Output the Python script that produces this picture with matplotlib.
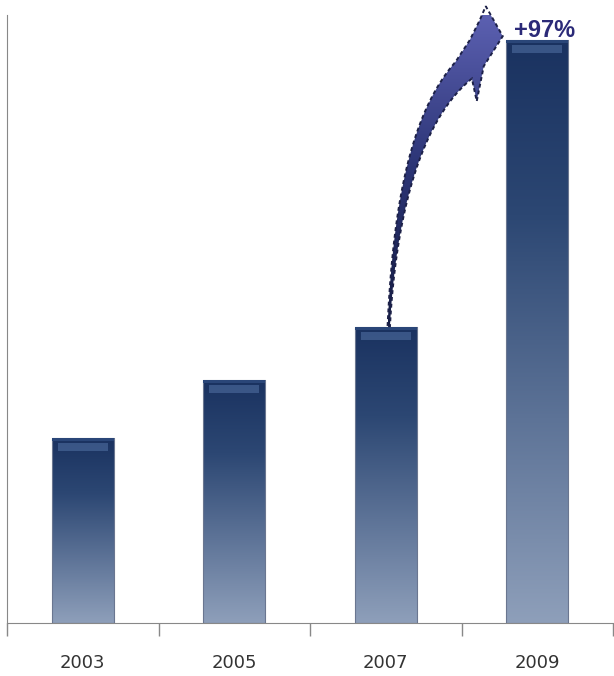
import numpy as np
import matplotlib
matplotlib.use("Agg")
import matplotlib.pyplot as plt
from matplotlib.colors import LinearSegmentedColormap
from matplotlib.patches import Rectangle, Polygon

years = ["2003", "2005", "2007", "2009"]
values = [185, 243, 296, 583]
growth_label = "+97%"

fig = plt.figure(figsize=(6.14, 6.76), dpi=100)
ax = fig.add_axes([7 / 614, 53 / 676, 606 / 614, 608 / 676])
ax.set_xlim(-0.5, len(years) - 0.5)
ax.set_ylim(0, 608)

bar_cmap = LinearSegmentedColormap.from_list(
    "bars", [(0.0, "#8e9fba"), (0.35, "#5d7397"), (0.7, "#2c4773"), (1.0, "#1a3260")])

width = 0.41
x = np.arange(len(years))
grad = np.linspace(0, 1, 256).reshape(-1, 1)
for xi, v in zip(x, values):
    left = xi - width / 2
    rect = Rectangle((left, 0), width, v, facecolor="none", edgecolor="#6a7690", lw=0.8, zorder=3)
    ax.add_patch(rect)
    im = ax.imshow(grad, cmap=bar_cmap, origin="lower", aspect="auto",
                   extent=(left, left + width, 0, v), zorder=2)
    im.set_clip_path(rect)
    # soft bevel on top
    ax.add_patch(Rectangle((left + 0.04, v - 13), width - 0.08, 8,
                           facecolor="#5878ab", edgecolor="none", alpha=0.5, zorder=4))
    ax.add_patch(Rectangle((left, v - 3), width, 3,
                           facecolor="#2a4678", edgecolor="none", zorder=4))

# category boundaries as ticks, labels at centers
ax.set_xticks(np.arange(-0.5, len(years)), labels=[""] * (len(years) + 1))
ax.set_xticks(x, labels=years, minor=True)
ax.tick_params(axis="x", which="major", direction="out", length=9, color="#888888", width=1)
ax.tick_params(axis="x", which="minor", length=0, pad=22, labelsize=13, labelcolor="#333333")
ax.set_yticks([])
for s in ["top", "right"]:
    ax.spines[s].set_visible(False)
ax.spines["left"].set_color("#888888")
ax.spines["bottom"].set_color("#888888")

# hooked growth arrow from the top of the 2007 bar up beside the 2009 bar
# shape is laid out in pixel offsets (y down) from the start point
p0 = ax.transData.transform((x[2] + 0.02, values[2] + 1))
tip_d = ax.transData.transform((x[3] - 0.34, values[3] * 1.058))
tip = np.array([tip_d[0] - p0[0], p0[1] - tip_d[1]])

P = np.array([[0, 0], [6, -120], [28, -210], [tip[0] - 22, tip[1] + 64]], float)
ts = np.linspace(0, 1, 90)[:, None]
c = ((1 - ts) ** 3 * P[0] + 3 * (1 - ts) ** 2 * ts * P[1]
     + 3 * (1 - ts) * ts ** 2 * P[2] + ts ** 3 * P[3])
d = (3 * (1 - ts) ** 2 * (P[1] - P[0]) + 6 * (1 - ts) * ts * (P[2] - P[1])
     + 3 * ts ** 2 * (P[3] - P[2]))
d /= np.linalg.norm(d, axis=1)[:, None]
nl = np.column_stack([d[:, 1], -d[:, 0]])
hw = (1.2 + 10.5 * ts[:, 0] ** 1.6)[:, None]
upper = c + nl * hw
lower = c - nl * hw
head = np.array([
    tip + [-16, 34],
    tip + [-6, 14],
    tip,
    tip + [17, 30],
    tip + [-2, 60],
    tip + [-9, 95],
])
off = np.vstack([upper, head, lower[::-1]])
pts_px = np.column_stack([p0[0] + off[:, 0], p0[1] - off[:, 1]])
pts = ax.transData.inverted().transform(pts_px)

arrow_cmap = LinearSegmentedColormap.from_list("arrow", ["#141c44", "#2c3576", "#5f63b5"])
clip_poly = Polygon(pts, closed=True, facecolor="none", edgecolor="none")
ax.add_patch(clip_poly)
aim = ax.imshow(grad, cmap=arrow_cmap, origin="lower", aspect="auto",
                extent=(pts[:, 0].min(), pts[:, 0].max(), pts[:, 1].min(), pts[:, 1].max()),
                zorder=5)
aim.set_clip_path(clip_poly)
outline = Polygon(pts, closed=True, facecolor="none", edgecolor="#1d2148",
                  lw=1.4, ls=(0, (2, 1.5)), zorder=6, clip_on=False)
ax.add_patch(outline)
ax.set_xlim(-0.5, len(years) - 0.5)
ax.set_ylim(0, 608)

ax.text(x[3] + 0.05, values[3] * 1.017, growth_label, ha="center", va="center",
        fontsize=17, fontweight="bold", color="#2b2a78", family="Liberation Sans",
        zorder=7, clip_on=False)

fig.savefig("out.png", dpi=100)
